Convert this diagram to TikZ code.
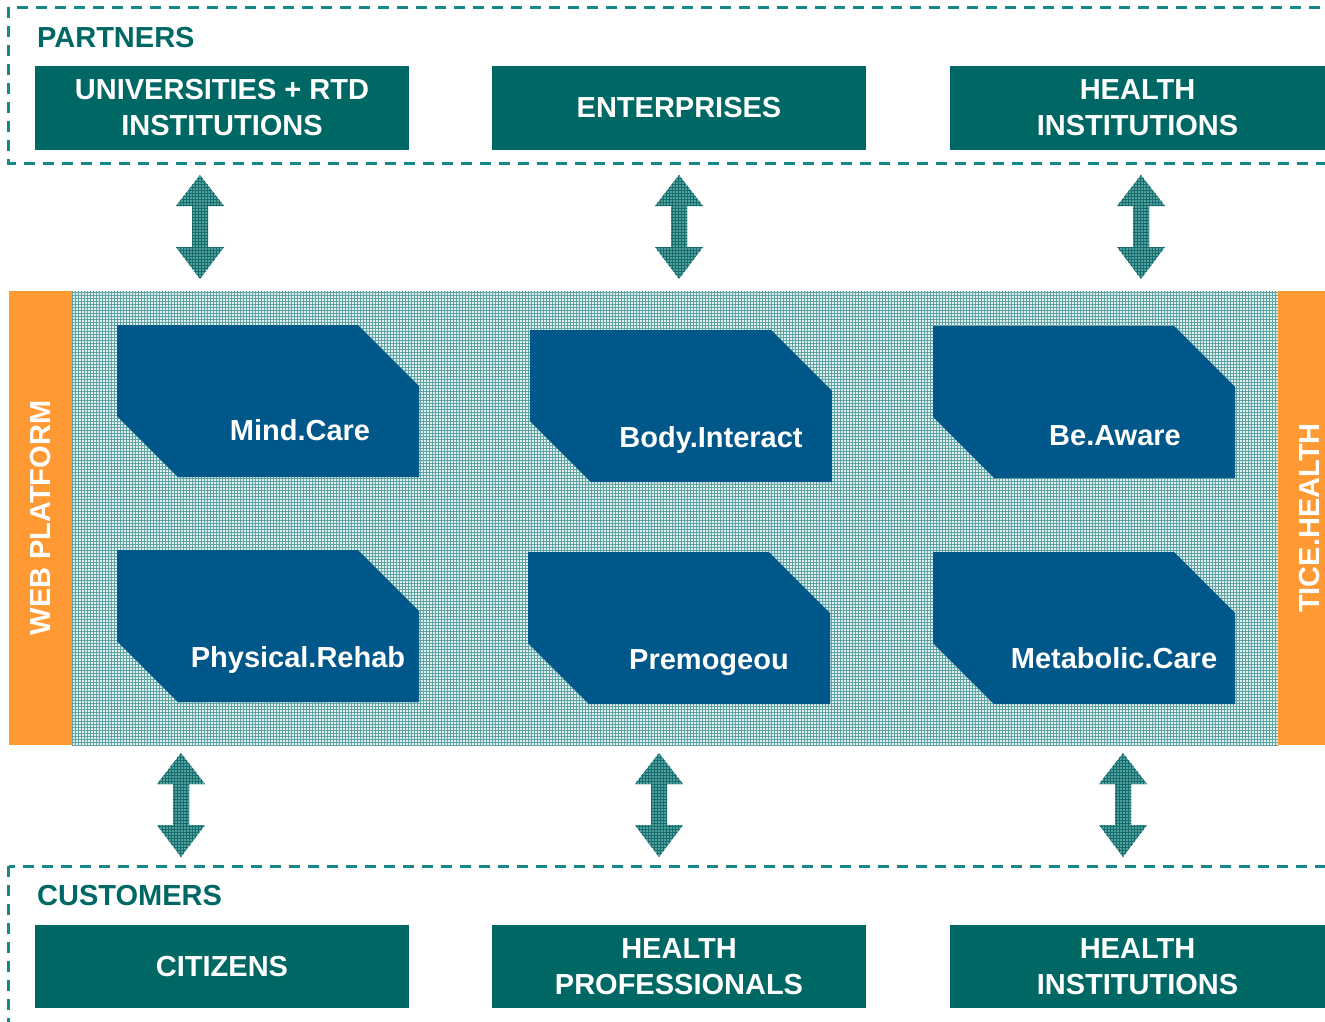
\documentclass[tikz,border=0pt]{standalone}
\usepackage{fontspec}
\setmainfont{Liberation Sans}
\usetikzlibrary{patterns}
\definecolor{boxteal}{HTML}{006864}
\definecolor{dashteal}{HTML}{168888}
\definecolor{orangebar}{HTML}{FF9933}
\definecolor{blueshape}{HTML}{00578A}
\definecolor{gridbg}{HTML}{E2EFEF}
\definecolor{gridline}{HTML}{5FA3A3}
\definecolor{arrowbg}{HTML}{529F9F}
\definecolor{arrowline}{HTML}{176C6C}
\tikzset{
  big/.style={font=\fontsize{29}{36}\selectfont\bfseries},
  tealbox/.style={fill=boxteal, text=white, big, align=center, inner sep=0pt},
  grouptitle/.style={text=boxteal, big, anchor=base west, inner sep=0pt},
  dashedframe/.style={draw=dashteal, line width=3pt, dash pattern=on 11pt off 8pt},
  orangebox/.style={fill=orangebar, text=white, big, inner sep=0pt, rotate=90},
  platform/.style={preaction={fill=gridbg}, pattern=grid, pattern color=gridline},
  blueshapestyle/.style={fill=blueshape},
  shapelabel/.style={text=white, big, anchor=base, inner sep=0pt},
  arrowfill/.style={preaction={fill=arrowbg}, pattern=grid, pattern color=arrowline},
}
\newcommand\cutshape[2]{% #1 = left x, #2 = top y
  \path[blueshapestyle] (#1,#2) -- (#1+241,#2) -- (#1+302,#2+61) -- (#1+302,#2+152)
    -- (#1+61,#2+152) -- (#1,#2+91) -- cycle;}
\newcommand\dblarrow[2]{% #1 = centre x, #2 = top y
  \path[arrowfill] (#1,#2) -- (#1+24,#2+31) -- (#1+8,#2+31) -- (#1+8,#2+72)
    -- (#1+24,#2+72) -- (#1,#2+104) -- (#1-24,#2+72) -- (#1-8,#2+72)
    -- (#1-8,#2+31) -- (#1-24,#2+31) -- cycle;}
\begin{document}
\begin{tikzpicture}[x=1pt, y=-1pt]
\useasboundingbox (0,0) rectangle (1325,1021);
\clip (0,0) rectangle (1325,1021);

% partner frame
\draw[dashedframe] (8.5,7) rectangle (1420,163);
\node[grouptitle] (partners) at (37,47) {PARTNERS};
\node[tealbox, minimum width=374pt, minimum height=84pt] (univ) at (222,108) {UNIVERSITIES + RTD\\INSTITUTIONS};
\node[tealbox, minimum width=374pt, minimum height=84pt] (ent) at (679,108) {ENTERPRISES};
\node[tealbox, minimum width=375pt, minimum height=84pt] (hinst1) at (1137.5,108) {HEALTH\\INSTITUTIONS};

% arrows top
\dblarrow{200}{175}
\dblarrow{679}{175}
\dblarrow{1141}{175}

% platform
\path[platform] (72,291) rectangle (1278,745);
\node[orangebox, minimum width=454pt, minimum height=63pt] (web) at (40.5,518) {WEB PLATFORM};
\node[orangebox, minimum width=454pt, minimum height=64pt] (tice) at (1310,518) {TICE.HEALTH};

\cutshape{117}{325}
\node[shapelabel] (mind) at (300,440) {Mind.Care};
\cutshape{530}{330}
\node[shapelabel] (body) at (711,447) {Body.Interact};
\cutshape{933}{326}
\node[shapelabel] (aware) at (1115,445) {Be.Aware};
\cutshape{117}{550}
\node[shapelabel] (phys) at (298,667) {Physical.Rehab};
\cutshape{528}{552}
\node[shapelabel] (premo) at (709,669) {Premogeou};
\cutshape{933}{552}
\node[shapelabel] (meta) at (1114,668) {Metabolic.Care};

% arrows bottom
\dblarrow{181}{753}
\dblarrow{659}{753}
\dblarrow{1123}{753}

% customer frame
\draw[dashedframe] (8.5,866) rectangle (1420,1120);
\node[grouptitle] (customers) at (37,905) {CUSTOMERS};
\node[tealbox, minimum width=374pt, minimum height=83pt] (cit) at (222,966.5) {CITIZENS};
\node[tealbox, minimum width=374pt, minimum height=83pt] (hprof) at (679,966.5) {HEALTH\\PROFESSIONALS};
\node[tealbox, minimum width=375pt, minimum height=83pt] (hinst2) at (1137.5,966.5) {HEALTH\\INSTITUTIONS};
\end{tikzpicture}
\end{document}
